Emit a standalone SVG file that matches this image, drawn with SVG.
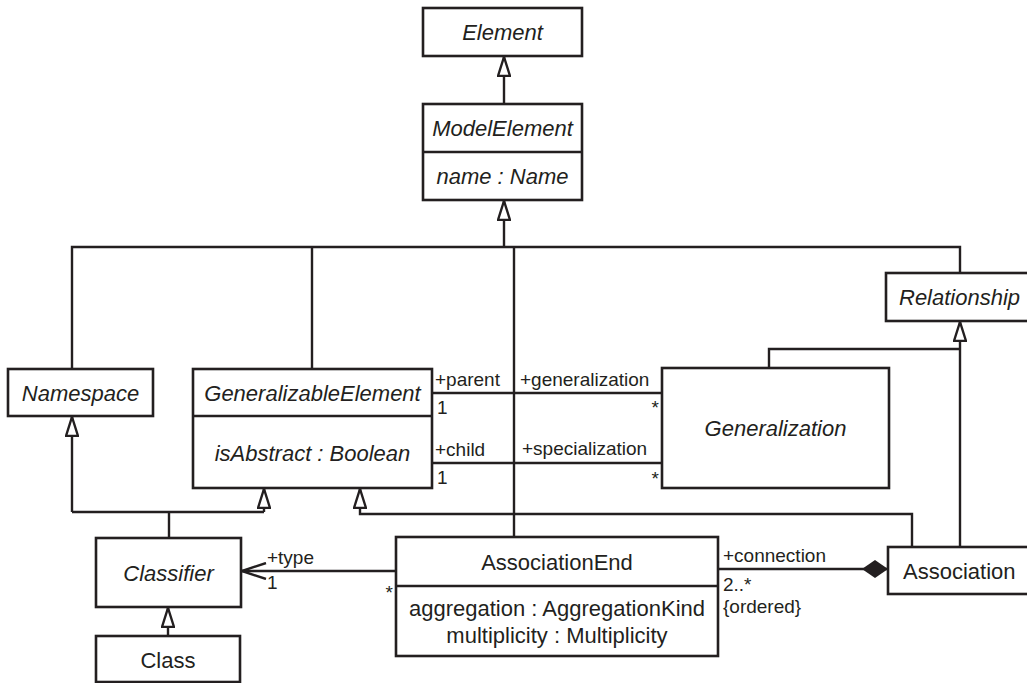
<svg xmlns="http://www.w3.org/2000/svg" width="1027" height="683" viewBox="0 0 1027 683">
  <defs>
    <style>
      .box { fill: #fff; stroke: #231f20; stroke-width: 2.6; }
      .div { stroke: #231f20; stroke-width: 2.6; }
      .edge { fill: none; stroke: #231f20; stroke-width: 2.4; }
      .t { font-family: "Liberation Sans", Arial, sans-serif; font-size: 22px; fill: #231f20; text-anchor: middle; dominant-baseline: central; }
      .i { font-style: italic; }
      .s { font-family: "Liberation Sans", Arial, sans-serif; font-size: 19px; fill: #231f20; }
      .e { text-anchor: end; }
    </style>
    <!-- hollow generalization triangle -->
    <marker id="gen" viewBox="0 0 21 14" refX="20" refY="7" markerWidth="21" markerHeight="14" markerUnits="userSpaceOnUse" orient="auto">
      <path d="M1,1 L20,7 L1,13 Z" fill="#fff" stroke="#231f20" stroke-width="2.4"/>
    </marker>
    <!-- open navigability arrow -->
    <marker id="open" viewBox="0 0 26 18" refX="25" refY="9" markerWidth="26" markerHeight="18" markerUnits="userSpaceOnUse" orient="auto">
      <path d="M1,1 L25,9 L1,17" fill="none" stroke="#231f20" stroke-width="2.4"/>
    </marker>
    <!-- filled composition diamond -->
    <marker id="comp" viewBox="0 0 26 20" refX="0" refY="10" markerWidth="26" markerHeight="20" markerUnits="userSpaceOnUse" orient="auto">
      <path d="M0,10 L13,1 L26,10 L13,19 Z" fill="#231f20"/>
    </marker>
  </defs>

  <g id="connectors">
    <!-- ModelElement generalizes Element -->
    <path class="edge" d="M504,104 V57" marker-end="url(#gen)"/>
    <!-- subclasses of ModelElement -->
    <path class="edge" d="M72,369 V247 H960 V273 M312,369 V247 M514,537 V247"/>
    <path class="edge" d="M504,247 V201" marker-end="url(#gen)"/>
    <!-- Generalization and Association generalize Relationship -->
    <path class="edge" d="M769,368 V349 H960"/>
    <path class="edge" d="M960,547 V322" marker-end="url(#gen)"/>
    <!-- Classifier generalizes Namespace and GeneralizableElement -->
    <path class="edge" d="M72,512 H264 M169,512 V538"/>
    <path class="edge" d="M72,512 V417" marker-end="url(#gen)"/>
    <path class="edge" d="M264,512 V489" marker-end="url(#gen)"/>
    <!-- Association generalizes GeneralizableElement -->
    <path class="edge" d="M912,547 V514 H360 V489" marker-end="url(#gen)"/>
    <!-- Class generalizes Classifier -->
    <path class="edge" d="M168,636 V608" marker-end="url(#gen)"/>
    <!-- parent / child associations -->
    <path class="edge" d="M432,393 H662 M432,463 H662" stroke-width="2.2"/>
    <!-- AssociationEnd to Classifier -->
    <path class="edge" d="M396,571 H242" marker-end="url(#open)"/>
    <!-- Association composed of AssociationEnds -->
    <path class="edge" d="M888,569 H718" marker-start="url(#comp)"/>

    <text class="s" x="435" y="386">+parent</text>
    <text class="s" x="437" y="414">1</text>
    <text class="s" x="435" y="456">+child</text>
    <text class="s" x="437" y="484">1</text>
    <text class="s" x="520" y="386">+generalization</text>
    <text class="s" x="522" y="455">+specialization</text>
    <text class="s e" x="659" y="414">*</text>
    <text class="s e" x="659" y="485">*</text>
    <text class="s" x="267" y="564">+type</text>
    <text class="s" x="267" y="589">1</text>
    <text class="s e" x="393" y="599">*</text>
    <text class="s" x="723" y="562">+connection</text>
    <text class="s" x="723" y="591">2..*</text>
    <text class="s" x="723" y="613">{ordered}</text>
  </g>

  <g id="Element">
    <rect class="box" x="423" y="8" width="159" height="48"/>
    <text class="t i" x="502.5" y="32">Element</text>
  </g>

  <g id="ModelElement">
    <rect class="box" x="423" y="104" width="159" height="96"/>
    <line class="div" x1="423" y1="152" x2="582" y2="152"/>
    <text class="t i" x="502.5" y="128">ModelElement</text>
    <text class="t i" x="502.5" y="176">name : Name</text>
  </g>

  <g id="Namespace">
    <rect class="box" x="8" y="369" width="145" height="47"/>
    <text class="t i" x="80.5" y="393">Namespace</text>
  </g>

  <g id="GeneralizableElement">
    <rect class="box" x="193" y="369" width="239" height="119"/>
    <line class="div" x1="193" y1="416" x2="432" y2="416"/>
    <text class="t i" x="312.5" y="393">GeneralizableElement</text>
    <text class="t i" x="312.5" y="453">isAbstract : Boolean</text>
  </g>

  <g id="Relationship">
    <rect class="box" x="886" y="273" width="160" height="48"/>
    <text class="t i" x="899" y="297" style="text-anchor:start">Relationship</text>
  </g>

  <g id="Generalization">
    <rect class="box" x="662" y="368" width="227" height="120"/>
    <text class="t i" x="775.5" y="428">Generalization</text>
  </g>

  <g id="Classifier">
    <rect class="box" x="96" y="538" width="145" height="69"/>
    <text class="t i" x="168.5" y="573">Classifier</text>
  </g>

  <g id="Class">
    <rect class="box" x="96" y="636" width="144" height="46"/>
    <text class="t" x="168" y="660">Class</text>
  </g>

  <g id="AssociationEnd">
    <rect class="box" x="396" y="537" width="322" height="119"/>
    <line class="div" x1="396" y1="586" x2="718" y2="586"/>
    <text class="t" x="557" y="562">AssociationEnd</text>
    <text class="t" x="557" y="608">aggregation : AggregationKind</text>
    <text class="t" x="557" y="635">multiplicity : Multiplicity</text>
  </g>

  <g id="Association">
    <rect class="box" x="888" y="547" width="160" height="47"/>
    <text class="t" x="903" y="571" style="text-anchor:start">Association</text>
  </g>
</svg>
